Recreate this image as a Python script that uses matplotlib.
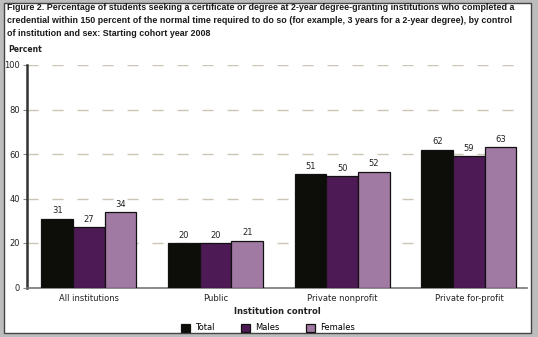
import matplotlib.pyplot as plt
import matplotlib.patches as mpatches
import numpy as np

categorias = ['All institutions', 'Public', 'Private nonprofit', 'Private for-profit']
total = [31, 20, 51, 62]
homens = [27, 20, 50, 59]
mulheres = [34, 21, 52, 63]
series = ['Total', 'Males', 'Females']
cores = ['#0d0d0a', '#4e1a55', '#a07aa3']

fig = plt.figure(figsize=(5.38, 3.37), dpi=100)
fig.patch.set_facecolor('#bdbdbd')
# painel branco com borda
fig.patches.append(mpatches.Rectangle((4/538, 1-333/337), 527/538, 330/337, transform=fig.transFigure,
                                      facecolor='white', edgecolor='#444444', lw=1.0, zorder=0))

ax = fig.add_axes([27/538, 1-287.5/337, 500/538, 222.5/337])
ax.set_facecolor('none')
ax.set_zorder(2)

x = np.arange(len(categorias))
w = 0.25
for i, (vals, cor, nome) in enumerate(zip([total, homens, mulheres], cores, series)):
    barras = ax.bar(x + (i-1)*w, vals, w, color=cor, edgecolor='#111111', lw=0.9, label=nome, zorder=3)
    for b, v in zip(barras, vals):
        ax.text(b.get_x()+b.get_width()/2, v+1.5, str(v), ha='center', va='bottom', fontsize=6, color='#222222')

ax.set_xlim(-0.489, 3.458)
ax.set_ylim(0, 100)
ax.set_yticks(range(0, 101, 20))
ax.set_xticks(x)
ax.set_xticklabels(categorias, fontsize=6, color='#222222')
ax.tick_params(axis='y', labelsize=6, colors='#222222', length=3, width=0.8, color='#888888', pad=2)
ax.tick_params(axis='x', length=0, pad=5)
ax.grid(axis='y', color='#cbc6b5', lw=1.0, dashes=(8, 10), zorder=0)
ax.set_axisbelow(True)
for s in ['top', 'right']:
    ax.spines[s].set_visible(False)
ax.spines['left'].set_linewidth(1.8)
ax.spines['left'].set_color('#333333')
ax.spines['bottom'].set_linewidth(1.2)
ax.spines['bottom'].set_color('#777777')

fig.text(8/538, 1-50/337, 'Percent', fontsize=5.5, fontweight='bold', va='center', color='#222222')
fig.text(277/538, 1-312/337, 'Institution control', fontsize=6, fontweight='bold', ha='center', va='center', color='#222222')

titulo = ('Figure 2. Percentage of students seeking a certificate or degree at 2-year degree-granting institutions who completed a\n'
          'credential within 150 percent of the normal time required to do so (for example, 3 years for a 2-year degree), by control\n'
          'of institution and sex: Starting cohort year 2008')
fig.text(7/538, 1-3.5/337, titulo, fontsize=6.4, fontweight='bold', family='Liberation Sans', va='top', ha='left',
         linespacing=1.55, color='#1a1a1a')

fig.legend(loc='center', bbox_to_anchor=(268/538, 1-328/337), ncol=3, frameon=False, fontsize=6,
           handlelength=1.1, handleheight=1.1, columnspacing=3.2, handletextpad=0.6)

fig.savefig('out.png', dpi=100, facecolor=fig.get_facecolor())
